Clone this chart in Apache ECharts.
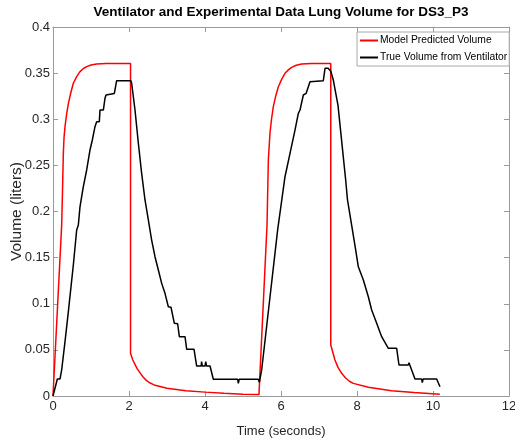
<!DOCTYPE html>
<html>
<head>
<meta charset="utf-8">
<script src="https://cdn.jsdelivr.net/npm/echarts@6/dist/echarts.min.js"></script>
<style>
html,body{margin:0;padding:0;background:#fff;}
#chart{width:515px;height:444px;}
</style>
</head>
<body>
<div id="chart"></div>
<script>
// ---- Data ----
const chartTitle = 'Ventilator and Experimental Data Lung Volume for DS3_P3';
const xAxisName = 'Time (seconds)';
const yAxisName = 'Volume (liters)';
const seriesNames = ['Model Predicted Volume', 'True Volume from Ventilator'];
const xTicks = [0, 2, 4, 6, 8, 10, 12];
const yTicks = [0, 0.05, 0.1, 0.15, 0.2, 0.25, 0.3, 0.35, 0.4];

// Model predicted volume (red)
const modelTime = [
  0.00, 0.02, 0.228, 0.25, 0.272, 0.29, 0.316, 0.36, 0.404, 0.47, 0.535, 0.62, 0.71, 0.80, 0.886, 1.00, 1.149, 1.40, 1.70, 2.04,
  2.04, 2.10, 2.21, 2.30, 2.37, 2.45, 2.53, 2.66, 3.00, 3.50, 4.00, 4.50, 5.00, 5.42,
  5.632, 5.667, 5.71, 5.75, 5.798, 5.86, 5.93, 6.02, 6.105, 6.20, 6.28, 6.40, 6.544, 6.80, 7.10, 7.31,
  7.31, 7.42, 7.50, 7.596, 7.70, 7.80, 7.904, 8.30, 8.91, 9.50, 10.18
];
const modelVolume = [
  0.000, 0.001, 0.185, 0.222, 0.263, 0.280, 0.292, 0.306, 0.317, 0.329, 0.339, 0.346, 0.3516, 0.355, 0.357, 0.3588, 0.3599, 0.3603, 0.3605, 0.3605,
  0.0463, 0.039, 0.030, 0.0245, 0.0206, 0.0172, 0.0146, 0.0120, 0.0085, 0.0058, 0.0042, 0.0030, 0.0020, 0.0015,
  0.185, 0.256, 0.2848, 0.300, 0.3136, 0.325, 0.3353, 0.3435, 0.3498, 0.3538, 0.3563, 0.3585, 0.3598, 0.3604, 0.3605, 0.3605,
  0.0553, 0.039, 0.031, 0.0246, 0.0195, 0.016, 0.0137, 0.0095, 0.0058, 0.0038, 0.0018
];

// True volume from ventilator (black)
const trueTime = [
  0.00, 0.026, 0.096, 0.114, 0.184, 0.228, 0.316, 0.404, 0.535, 0.623, 0.667, 0.71, 0.798, 0.886, 0.974, 1.035, 1.079, 1.105, 1.149, 1.219,
  1.237, 1.325, 1.368, 1.395, 1.43, 1.614, 1.675, 2.05,
  2.07, 2.158, 2.246, 2.333, 2.421, 2.509, 2.596, 2.684, 2.772, 2.86, 2.947, 3.035, 3.105, 3.193, 3.28, 3.325, 3.474, 3.518, 3.711,
  3.781, 3.90, 3.91, 3.93, 4.00, 4.02, 4.04, 4.132, 4.219, 4.86, 4.877, 4.90, 5.404, 5.43, 5.491,
  5.912, 6.105, 6.237, 6.368, 6.456, 6.50, 6.588, 6.62, 6.66, 6.763, 7.114, 7.158, 7.24, 7.28, 7.31, 7.377,
  7.50, 7.60, 7.70, 7.75, 7.86, 7.947, 8.035, 8.167, 8.298, 8.386, 8.518, 8.649, 8.70, 8.825, 9.044, 9.105,
  9.35, 9.37, 9.39, 9.526, 9.70, 9.719, 9.74, 10.096, 10.184
];
const trueVolume = [
  0.000, 0.0011, 0.0155, 0.0184, 0.0184, 0.0282, 0.0589, 0.0914, 0.142, 0.180, 0.1854, 0.205, 0.227, 0.245, 0.2667, 0.2775, 0.2793, 0.2919, 0.2974, 0.2974,
  0.310, 0.310, 0.3227, 0.3263, 0.328, 0.328, 0.3418, 0.3418,
  0.339, 0.310, 0.274, 0.2414, 0.2125, 0.1908, 0.169, 0.151, 0.1366, 0.1221, 0.1113, 0.0968, 0.0962, 0.0788, 0.0783, 0.0643, 0.0643, 0.0506, 0.0506,
  0.0325, 0.0325, 0.0372, 0.0325, 0.0325, 0.0372, 0.0325, 0.0325, 0.0181, 0.0181, 0.0137, 0.0181, 0.0181, 0.0148, 0.0282,
  0.180, 0.2377, 0.263, 0.2883, 0.3064, 0.310, 0.3263, 0.3245, 0.328, 0.3407, 0.3418, 0.3552, 0.3552, 0.357, 0.352, 0.3425,
  0.315, 0.275, 0.235, 0.2125, 0.185, 0.163, 0.140, 0.1257, 0.1076, 0.0932, 0.0788, 0.0643, 0.0643, 0.0517, 0.0517, 0.0336,
  0.0336, 0.036, 0.0336, 0.0184, 0.0184, 0.0145, 0.0184, 0.0184, 0.0101
];

// ---- Build chart ----
const FONT = '"Liberation Sans", Arial, sans-serif';
const AXIS_GRAY = '#9a9a9a';
const TEXT = '#262626';

function pairs(xs, ys) { return xs.map((x, i) => [x, ys[i]]); }

const chart = echarts.init(document.getElementById('chart'), null, { renderer: 'canvas' });

const baseAxis = {
  axisLine: { show: true, onZero: false, lineStyle: { color: AXIS_GRAY, width: 1 } },
  axisTick: { show: true, inside: true, length: 5, lineStyle: { color: AXIS_GRAY, width: 1 } },
  splitLine: { show: false },
};

chart.setOption({
  animation: false,
  backgroundColor: '#ffffff',
  title: {
    text: chartTitle,
    left: 281,
    top: 5,
    padding: 0,
    textAlign: 'center',
    textStyle: { fontFamily: FONT, fontSize: 13.5, fontWeight: 'bold', color: '#000' }
  },
  legend: {
    data: seriesNames,
    orient: 'vertical',
    left: 357,
    top: 32,
    padding: [2, 2, 2, 3],
    itemGap: 4,
    itemWidth: 18,
    itemHeight: 2,
    icon: 'rect',
    backgroundColor: '#ffffff',
    borderColor: '#a8a8a8',
    borderWidth: 1,
    textStyle: { fontFamily: FONT, fontSize: 10.3, color: '#000', lineHeight: 13, padding: [0, 0, 0, -3] }
  },
  grid: {
    left: 53, right: 6, top: 27, bottom: 48,
    containLabel: false,
    outerBoundsMode: 'none'
  },
  xAxis: [
    Object.assign({}, baseAxis, {
      type: 'value', position: 'bottom',
      min: xTicks[0], max: xTicks[xTicks.length - 1], interval: xTicks[1] - xTicks[0],
      name: xAxisName, nameLocation: 'middle', nameGap: 29, nameMoveOverlap: false,
      nameTextStyle: { fontFamily: FONT, fontSize: 13, color: TEXT },
      axisLabel: { fontFamily: FONT, fontSize: 13, color: TEXT, margin: 4 }
    }),
    Object.assign({}, baseAxis, {
      type: 'value', position: 'top',
      min: xTicks[0], max: xTicks[xTicks.length - 1], interval: xTicks[1] - xTicks[0],
      axisLabel: { show: false }
    })
  ],
  yAxis: [
    Object.assign({}, baseAxis, {
      type: 'value', position: 'left',
      min: yTicks[0], max: yTicks[yTicks.length - 1], interval: yTicks[1] - yTicks[0],
      name: yAxisName, nameLocation: 'middle', nameGap: 28, nameRotate: 90, nameMoveOverlap: false,
      nameTextStyle: { fontFamily: FONT, fontSize: 15.5, color: TEXT },
      axisLabel: { fontFamily: FONT, fontSize: 13, color: TEXT, margin: 3,
        formatter: v => String(+v.toFixed(2)) }
    }),
    Object.assign({}, baseAxis, {
      type: 'value', position: 'right',
      min: yTicks[0], max: yTicks[yTicks.length - 1], interval: yTicks[1] - yTicks[0],
      axisLabel: { show: false }
    })
  ],
  series: [
    {
      name: seriesNames[0], type: 'line', xAxisIndex: 0, yAxisIndex: 0,
      data: pairs(modelTime, modelVolume),
      showSymbol: false, symbol: 'none', smooth: false,
      itemStyle: { color: '#ff0000' },
      lineStyle: { color: '#ff0000', width: 1.5 },
      z: 2
    },
    {
      name: seriesNames[1], type: 'line', xAxisIndex: 0, yAxisIndex: 0,
      data: pairs(trueTime, trueVolume),
      showSymbol: false, symbol: 'none', smooth: false,
      itemStyle: { color: '#000000' },
      lineStyle: { color: '#000000', width: 1.5 },
      z: 3
    }
  ]
});
</script>
</body>
</html>
